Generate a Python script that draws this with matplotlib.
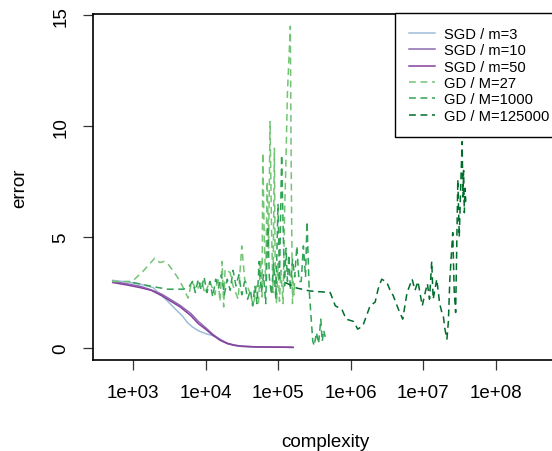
import numpy as np
import matplotlib
matplotlib.use("Agg")
import matplotlib.pyplot as plt

plt.rcParams['font.family'] = ['Liberation Sans', 'DejaVu Sans']

# complexity is kept as log10 values, error as is
sgd3_lx = [2.72, 2.9, 3.1, 3.28, 3.33, 3.45, 3.6, 3.68, 3.75, 3.82, 3.9, 4.0,
           4.1, 4.2, 4.3, 4.4, 4.5, 4.7, 5.0, 5.2]
sgd3_err = [3.05, 2.98, 2.88, 2.72, 2.55, 2.2, 1.7, 1.45, 1.15, 0.95, 0.78, 0.65,
            0.56, 0.4, 0.2, 0.12, 0.07, 0.05, 0.04, 0.03]

sgd10_lx = [2.72, 2.9, 3.1, 3.25, 3.4, 3.55, 3.65, 3.8, 3.9, 4.0, 4.1, 4.2,
            4.3, 4.4, 4.5, 4.7, 5.0, 5.2]
sgd10_err = [3.0, 2.9, 2.78, 2.62, 2.42, 2.12, 1.92, 1.55, 1.2, 0.92, 0.62, 0.38,
             0.22, 0.13, 0.08, 0.05, 0.04, 0.03]

sgd50_lx = [2.72, 2.9, 3.1, 3.25, 3.4, 3.55, 3.65, 3.8, 3.9, 4.0, 4.1, 4.2,
            4.3, 4.4, 4.5, 4.7, 4.9, 5.21]
sgd50_err = [2.95, 2.85, 2.72, 2.6, 2.35, 2.05, 1.85, 1.45, 1.1, 0.85, 0.58, 0.35,
             0.2, 0.12, 0.08, 0.05, 0.04, 0.03]

gd27_lx = [2.71, 2.85, 2.99, 3.15, 3.3, 3.37, 3.43, 3.48, 3.57, 3.65, 3.76, 3.81,
           3.88, 3.95, 3.99, 4.06, 4.13, 4.17, 4.2, 4.23, 4.25, 4.27, 4.34, 4.38,
           4.45, 4.5, 4.54, 4.61, 4.66, 4.7, 4.73, 4.76, 4.78, 4.79, 4.81, 4.83,
           4.85, 4.87, 4.89, 4.91, 4.93, 4.95, 4.96, 4.98, 5.0, 5.02, 5.04, 5.07,
           5.09, 5.11, 5.13, 5.15, 5.17, 5.18, 5.19, 5.2, 5.21, 5.22, 5.23]
gd27_err = [3.0, 3.0, 3.0, 3.5, 4.05, 3.85, 3.9, 3.8, 3.4, 3.0, 2.25, 3.0,
            2.6, 3.0, 2.45, 3.0, 2.4, 3.2, 2.1, 3.9, 1.85, 3.55, 3.4, 2.8,
            2.2, 4.6, 3.1, 2.5, 1.9, 2.8, 2.0, 4.0, 2.3, 8.8, 5.0, 3.0,
            7.5, 4.5, 10.2, 5.5, 2.5, 9.0, 4.0, 2.0, 3.8, 2.1, 3.5, 2.0,
            6.0, 8.5, 11.5, 13.0, 14.5, 9.0, 5.0, 2.0, 3.0, 2.4, 3.0]

gd1000_lx = [3.0, 3.3, 3.48, 3.6, 3.7, 3.78, 3.82, 3.86, 3.9, 3.94, 3.98, 4.02,
             4.06, 4.1, 4.14, 4.18, 4.22, 4.26, 4.3, 4.34, 4.38, 4.42, 4.46, 4.5,
             4.54, 4.58, 4.62, 4.65, 4.68, 4.71, 4.74, 4.77, 4.8, 4.83, 4.86, 4.88,
             4.91, 4.94, 4.97, 5.0, 5.02, 5.05, 5.07, 5.09, 5.11, 5.13, 5.15, 5.17,
             5.2, 5.23, 5.26, 5.29, 5.32, 5.35, 5.38, 5.4, 5.43, 5.46, 5.48, 5.5,
             5.53, 5.56, 5.59, 5.61, 5.63, 5.65]
gd1000_err = [2.95, 2.75, 2.65, 2.65, 2.65, 2.8, 3.0, 2.5, 3.1, 2.6, 3.2, 2.5,
              3.0, 2.3, 3.1, 2.7, 3.3, 2.4, 3.1, 2.6, 3.5, 2.8, 3.3, 2.4,
              3.0, 2.2, 2.6, 1.9, 2.8, 2.0, 3.9, 2.5, 3.3, 2.0, 5.5, 3.2,
              2.4, 3.8, 2.2, 6.5, 3.0, 8.7, 5.5, 2.8, 4.5, 3.0, 4.2, 2.6,
              4.0, 3.2, 4.6, 3.0, 3.0, 4.6, 3.2, 5.7, 2.6, 1.2, 0.3, 0.1,
              0.7, 0.2, 1.3, 0.3, 0.8, 0.5]

gd125k_lx = [5.1, 5.26, 5.44, 5.72, 5.79, 5.88, 5.94, 6.04, 6.1, 6.17, 6.27, 6.34,
             6.38, 6.43, 6.5, 6.54, 6.59, 6.66, 6.72, 6.78, 6.85, 6.89, 6.93, 6.99,
             7.03, 7.06, 7.09, 7.12, 7.14, 7.19, 7.23, 7.26, 7.28, 7.3, 7.33, 7.35,
             7.37, 7.41, 7.43, 7.45, 7.46, 7.48, 7.5, 7.52, 7.54, 7.55, 7.56, 7.57,
             7.58, 7.59]
gd125k_err = [2.95, 2.7, 2.57, 2.5, 1.9, 1.75, 1.3, 1.2, 0.85, 1.0, 1.9, 2.07,
              2.65, 3.1, 2.97, 2.65, 2.35, 1.75, 1.3, 2.5, 3.1, 2.6, 3.0, 1.9,
              2.5, 2.9, 2.2, 3.9, 2.2, 3.1, 2.0, 1.6, 1.45, 0.9, 0.4, 1.2,
              3.1, 5.2, 2.6, 1.6, 3.5, 7.6, 5.0, 7.3, 9.3, 6.8, 8.0, 6.1,
              7.2, 6.6]

series = [
    ("SGD / m=3", sgd3_lx, sgd3_err, '#9ebcda', '-'),
    ("SGD / m=10", sgd10_lx, sgd10_err, '#8c6bb1', '-'),
    ("SGD / m=50", sgd50_lx, sgd50_err, '#88419d', '-'),
    ("GD / M=27", gd27_lx, gd27_err, '#74c476', '--'),
    ("GD / M=1000", gd1000_lx, gd1000_err, '#31a354', '--'),
    ("GD / M=125000", gd125k_lx, gd125k_err, '#006d2c', '--'),
]

fig = plt.figure(figsize=(5.52, 4.52), dpi=100)
ax = fig.add_axes([93 / 552, 91 / 452, 465 / 552, 346 / 452])

for label, lx, err, col, ls in series:
    line, = ax.plot(10 ** np.array(lx), err, color=col, lw=1.1, ls=ls, label=label)
    if ls == '--':
        line.set_dashes((4.5, 3))

ax.set_xscale('log')
ax.set_xlim(10 ** 2.448, 10 ** 8.862)
ax.set_ylim(-0.54, 15.05)

xt = [1e3, 1e4, 1e5, 1e6, 1e7, 1e8]
ax.set_xticks(xt)
ax.set_xticklabels(['1e+03', '1e+04', '1e+05', '1e+06', '1e+07', '1e+08'])
ax.xaxis.set_minor_locator(matplotlib.ticker.NullLocator())
ax.set_yticks([0, 5, 10, 15])
ax.set_yticklabels(['0', '5', '10', '15'], rotation=90, va='center')

ax.tick_params(axis='both', direction='out', length=7, width=0.9,
               labelsize=13.5, pad=10, color='#333333')
for sp in ax.spines.values():
    sp.set_linewidth(1.2)

ax.set_xlabel('complexity', fontsize=13.5)
ax.set_ylabel('error', fontsize=13.5)
ax.xaxis.set_label_coords(0.5, -0.21)
ax.yaxis.set_label_coords(-0.14, 0.5)

leg = ax.legend(loc='upper left', bbox_to_anchor=(395 / 552, 1 - 14 / 452),
                bbox_transform=fig.transFigure, borderaxespad=0,
                fancybox=False, edgecolor='black', framealpha=1,
                fontsize=10.6, labelspacing=0.16, handlelength=1.75,
                handletextpad=0.6, borderpad=0.95)
leg.get_frame().set_linewidth(1.0)

fig.savefig('out.png', dpi=100)
